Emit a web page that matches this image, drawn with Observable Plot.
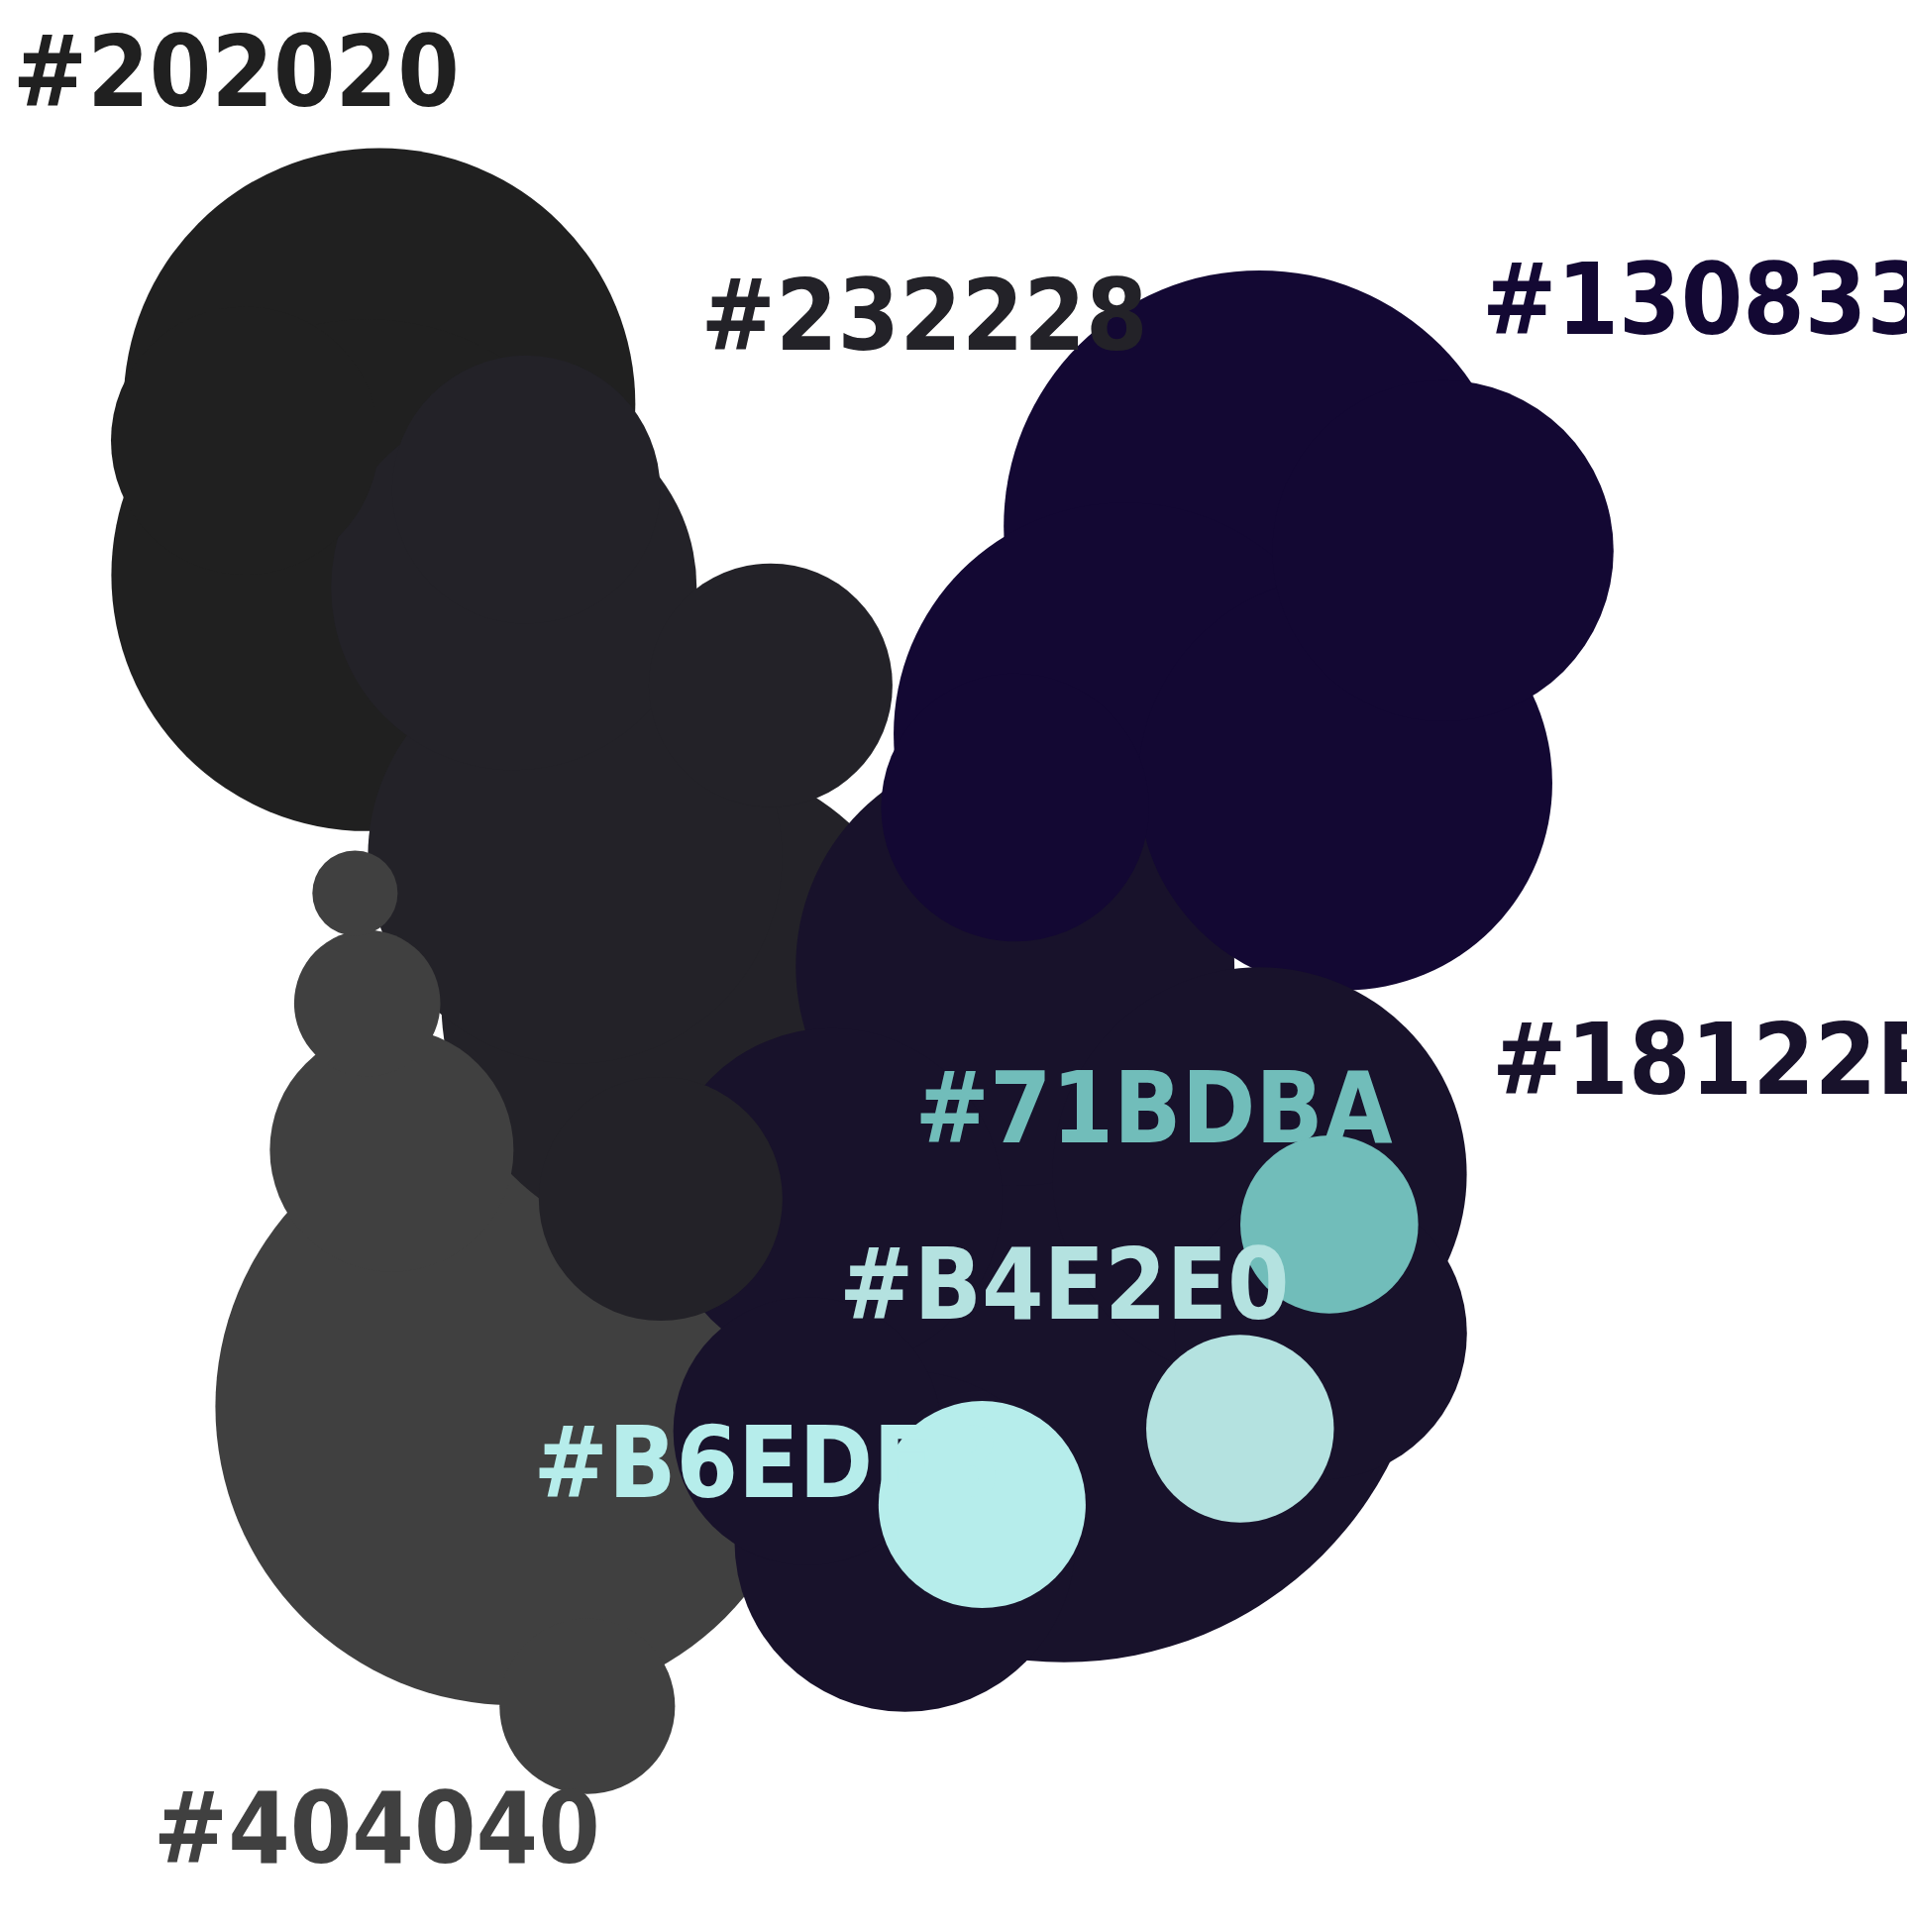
<!DOCTYPE html>
<html><head>
<script src="https://cdn.jsdelivr.net/npm/d3@7"></script>
<script src="https://cdn.jsdelivr.net/npm/@observablehq/plot@0.6"></script>
<style>body{margin:0;background:#fff}</style>
</head><body><div id="chart"></div>
<script>
// blobs built from overlapping circles (display units, 0..1560)
const blobColor = ["#404040","#404040","#404040","#404040","#404040",
  "#232228","#232228","#232228","#232228","#232228","#232228",
  "#202020","#202020","#202020",
  "#130833","#130833","#130833","#130833","#130833",
  "#18122B","#18122B","#18122B","#18122B","#18122B","#18122B","#18122B",
  "#71BDBA","#B4E2E0","#B6EDEB"]
const blobX = [420,320,300,290,480, 420,560,470,630,540,430, 310,300,200, 1030,1180,920,1100,830, 830,870,740,1030,680,660,1080, 1087,1014,803]
const blobY = [1150,940,820,730,1395, 480,820,700,560,980,400, 330,470,360, 430,450,600,640,660, 790,1060,1260,960,980,1170,1090, 1001,1168,1230]
const blobR = [245,100,60,35,72, 150,200,170,100,100,110, 210,210,110, 210,140,190,170,110, 180,300,140,170,140,110,120, 73,77,85]

const labels = ["#202020","#232228","#130833","#18122B","#71BDBA","#B4E2E0","#B6EDEB","#404040"]
const labelColor = ["#202020","#232228","#130833","#18122B","#71BDBA","#B4E2E0","#B6EDEB","#404040"]
const labelX = [10,573,1212,1220,748,686,436,125]
const labelY = [60,260,247,868,908,1052,1198,1497]

const blobs = blobX.map((x,i)=>({x, y: blobY[i], r: blobR[i], c: blobColor[i]}))
const texts = labels.map((t,i)=>({t, x: labelX[i], y: labelY[i], c: labelColor[i]}))

let chart = Plot.plot({
  width: 1925, height: 1950,
  margin: 0,
  x: {domain: [0,1560], axis: null},
  y: {domain: [0,1580], reverse: true, axis: null},
  r: {type: "linear", domain: [0,100], range: [0,123]},
  marks: [
    Plot.dot(blobs, {x: "x", y: "y", r: "r", fill: "c", stroke: null}),
    Plot.text(texts, {x: "x", y: "y", text: "t", fill: "c", textAnchor: "start",
      fontSize: 100, fontWeight: "bold", fontFamily: "DejaVu Sans Condensed"})
  ]
})
d3.select('#chart').append(() => chart)
</script></body></html>
